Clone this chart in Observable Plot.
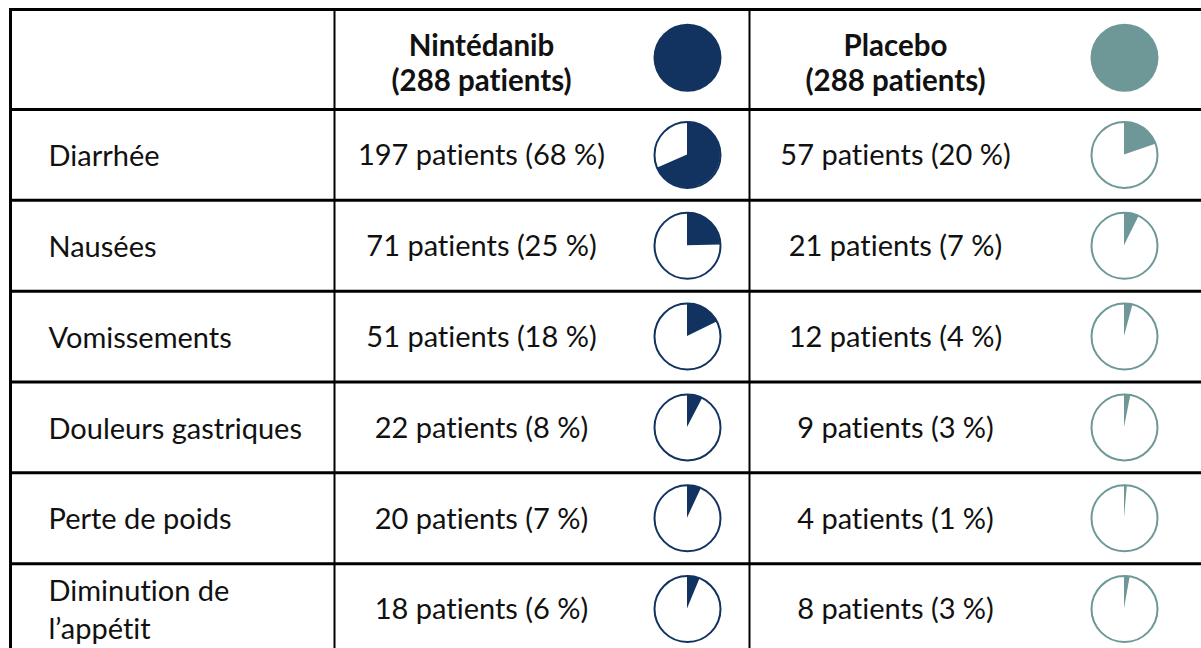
<!DOCTYPE html>
<html>
<head>
<meta charset="utf-8">
<script src="https://cdn.jsdelivr.net/npm/d3@7"></script>
<script src="https://cdn.jsdelivr.net/npm/@observablehq/plot@0.6"></script>
<style>
  html, body { margin: 0; padding: 0; background: #fff; }
  svg text { font-variant-ligatures: none; font-feature-settings: "liga" 0, "clig" 0; }
</style>
</head>
<body>
<div id="chart"></div>
<script>
// ---- data ----
const categories = ["Diarrhée", "Nausées", "Vomissements", "Douleurs gastriques", "Perte de poids", "Diminution de\nl’appétit"];
const armNames = ["Nintédanib", "Placebo"];
const armTotals = [288, 288];
const nintedanibCounts = [197, 71, 51, 22, 20, 18];
const nintedanibPct = [68, 25, 18, 8, 7, 6];
const placeboCounts = [57, 21, 12, 9, 4, 8];
const placeboPct = [20, 7, 4, 3, 1, 3];

// ---- styles / layout ----
const armColors = ["#12335f", "#6e9898"];
const FONT = "Lato";
const FS = 29;
const HFS = 29.5;
const labelX = 48;
const textX = [481, 895];
const pieX = [687, 1124];
const colRules = [334, 749];
const PIE_R = 33;

const armCounts = [nintedanibCounts, placeboCounts];
const armPct = [nintedanibPct, placeboPct];
const rowIdx = d3.range(categories.length);

const cells = [];
armNames.forEach((arm, a) => rowIdx.forEach(i => cells.push({a, i, n: armCounts[a][i], p: armPct[a][i], total: armTotals[a]})));

function wedges(index, scales) {
  const {x, y} = scales;
  const g = d3.create("svg:g");
  const arc = d3.arc().innerRadius(0).outerRadius(PIE_R);
  for (const c of cells) {
    g.append("path")
      .attr("transform", `translate(${x(pieX[c.a])},${y(c.i + 0.5)})`)
      .attr("d", arc({startAngle: 0, endAngle: 2 * Math.PI * c.n / c.total}))
      .attr("fill", armColors[c.a]);
  }
  return g.node();
}

const chart = Plot.plot({
  width: 1201,
  height: 648,
  marginLeft: 10,
  marginTop: 9,
  marginRight: -6,
  marginBottom: -6,
  x: {type: "linear", domain: [0, 1201], range: [0, 1201], axis: null},
  y: {type: "linear", domain: [0, categories.length], range: [109, 654], axis: null},
  style: {fontFamily: FONT, background: "#fff", color: "#111"},
  marks: [
    // grid
    Plot.ruleY(rowIdx, {y: d => d, stroke: "#000", strokeWidth: 3}),
    Plot.ruleX(colRules, {x: d => d, stroke: "#000", strokeWidth: 2}),
    Plot.frame({stroke: "#000", strokeWidth: 3}),
    // header
    Plot.text(armNames, {
      x: (d, i) => textX[i], y: () => -0.52,
      text: (d, i) => `${d}\n(${armTotals[i]} patients)`,
      fontWeight: "bold", fontSize: HFS, lineHeight: 1.19, fill: "#111"
    }),
    Plot.dot([0], {x: () => pieX[0], y: () => -0.57, r: 34, fill: armColors[0], stroke: null}),
    Plot.dot([1], {x: () => pieX[1], y: () => -0.57, r: 34, fill: armColors[1], stroke: null}),
    // row labels
    Plot.text(categories, {
      x: () => labelX, y: (d, i) => i + 0.5, text: d => d,
      textAnchor: "start", fontSize: FS, lineHeight: 1.31, fill: "#111", dy: -1
    }),
    // cell texts
    Plot.text(cells, {
      x: c => textX[c.a], y: c => c.i + 0.5,
      text: c => `${c.n} patients (${c.p} %)`,
      fontSize: FS, fill: "#111", dy: 1
    }),
    // pie outlines
    Plot.dot(cells.filter(c => c.a === 0), {x: c => pieX[c.a], y: c => c.i + 0.5, r: PIE_R, stroke: armColors[0], strokeWidth: 2, fill: "#fff"}),
    Plot.dot(cells.filter(c => c.a === 1), {x: c => pieX[c.a], y: c => c.i + 0.5, r: PIE_R, stroke: armColors[1], strokeWidth: 2, fill: "#fff"}),
    // pie wedges
    wedges
  ]
});
document.getElementById("chart").appendChild(chart);
</script>
</body>
</html>
